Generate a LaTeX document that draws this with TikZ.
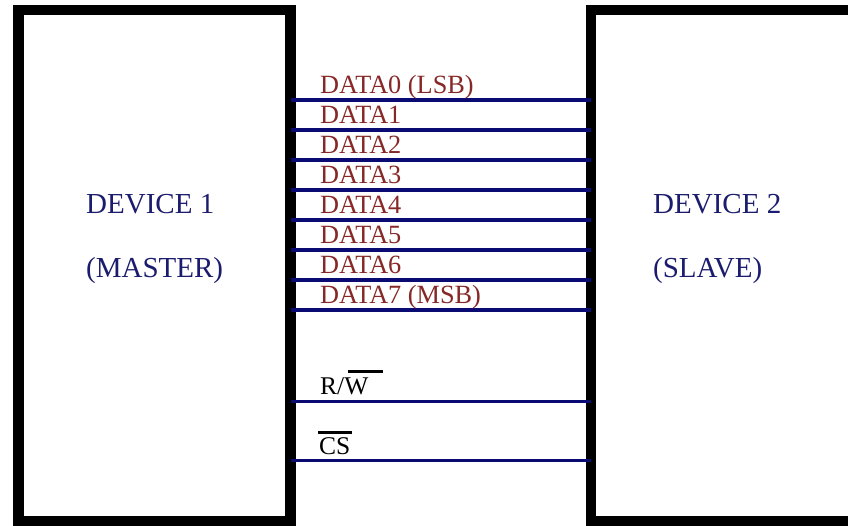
\documentclass[tikz,border=0pt]{standalone}
\usepackage{fontspec}
\setmainfont{Liberation Serif}
\usetikzlibrary{calc}
\definecolor{navytext}{RGB}{28,28,110}
\definecolor{busline}{RGB}{10,10,115}
\definecolor{sigred}{RGB}{135,40,40}
\begin{document}
\begin{tikzpicture}[x=1pt,y=-1pt,
  device/.style={draw=black, line width=10.5pt, inner sep=0pt, outer sep=0pt, rectangle},
  devlabel/.style={text=navytext, font=\fontsize{29}{34}\selectfont, anchor=base west, inner sep=0pt},
  datalabel/.style={text=sigred, font=\fontsize{26.3}{30}\selectfont, anchor=base west, inner sep=0pt},
  ctllabel/.style={text=black, font=\fontsize{25.5}{30}\selectfont, anchor=base west, inner sep=0pt},
  databus/.style={draw=busline, line width=3.8pt},
  ctlline/.style={draw=busline, line width=3pt},
  negbar/.style={draw=black, line width=3.5pt}]
\useasboundingbox (0,0) rectangle (848,525);
\clip (0,0) rectangle (848,525);

% the two devices
\node[device, minimum width=272pt, minimum height=511pt] (master) at (154.5,265.5) {};
\node[device, minimum width=310pt, minimum height=511pt] (slave) at (746,265.5) {};

\node[devlabel] (m1) at (86,213) {DEVICE 1};
\node[devlabel] (m2) at (86,277) {(MASTER)};
\node[devlabel] (s1) at (653,213) {DEVICE 2};
\node[devlabel] (s2) at (653,277) {(SLAVE)};

% 8-bit data bus
\foreach \i/\y/\txt in {0/100/DATA0 (LSB), 1/130/DATA1, 2/160/DATA2, 3/190/DATA3,
                        4/220/DATA4, 5/250/DATA5, 6/280/DATA6, 7/310/DATA7 (MSB)} {
  \draw[databus] (master.east |- 0,\y) -- (slave.west |- 0,\y);
  \node[datalabel] (d\i) at (320,\y-7) {\txt};
}

% control lines
\draw[ctlline] (master.east |- 0,401) -- (slave.west |- 0,401);
\node[ctllabel] (rw) at (320,394) {R/W};
\draw[negbar] ($(rw.base west)+(28,-22.5)$) -- ($(rw.base west)+(63,-22.5)$);

\draw[ctlline] (master.east |- 0,460) -- (slave.west |- 0,460);
\node[ctllabel] (cs) at (319,454) {CS};
\draw[negbar] ($(cs.base west)+(-1,-21.5)$) -- ($(cs.base west)+(33,-21.5)$);
\end{tikzpicture}
\end{document}
